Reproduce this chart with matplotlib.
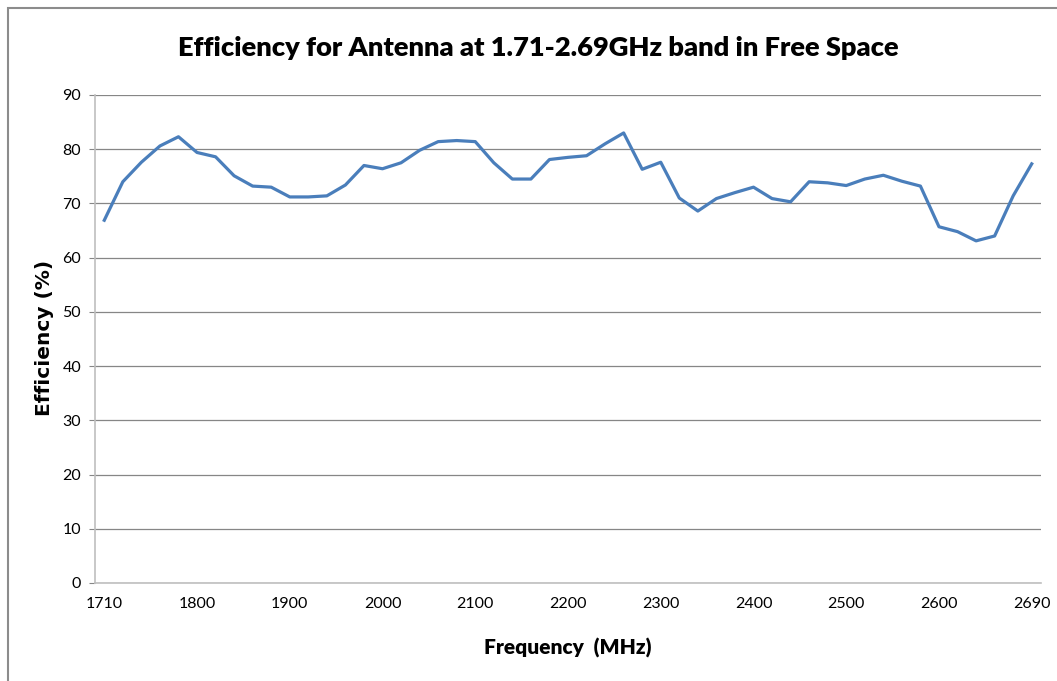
import numpy as np
import matplotlib
matplotlib.use('Agg')
import matplotlib.pyplot as plt
from matplotlib.patches import Rectangle

# frequency categories (MHz) and measured efficiency (%)
freqs = [1710] + list(range(1720, 2700, 20)) + [2690]
efficiency = [66.9, 74.0, 77.6, 80.6, 82.3, 79.4, 78.6, 75.1, 73.2, 73.0,
              71.2, 71.2, 71.4, 73.4, 77.0, 76.4, 77.5, 79.8, 81.4, 81.6,
              81.4, 77.5, 74.5, 74.5, 78.1, 78.5, 78.8, 81.0, 83.0, 76.3,
              77.6, 71.0, 68.6, 70.9, 72.0, 73.0, 70.9, 70.3, 74.0, 73.8,
              73.3, 74.5, 75.2, 74.1, 73.2, 65.7, 64.8, 63.1, 64.0, 71.4,
              77.3]
shown_labels = [1710, 1800, 1900, 2000, 2100, 2200, 2300, 2400, 2500, 2600, 2690]

fig = plt.figure(figsize=(10.57, 6.81), dpi=100)
ax = fig.add_axes([95 / 1057, 1 - 583 / 681, 946 / 1057, 488 / 681])

# chart frame (cut off at right and bottom like the screenshot)
fig.patches.append(Rectangle((8 / 1057, -0.1), 1.2, 1 - 8 / 681 + 0.1,
                             transform=fig.transFigure, fill=False,
                             edgecolor='#8c8c8c', lw=1.5))

idx = np.arange(len(freqs))
ax.plot(idx, efficiency, color='#4A7EBB', lw=2.3, solid_joinstyle='round')

ax.set_xlim(-0.5, len(freqs) - 0.5)
ax.set_ylim(0, 90)
ax.set_yticks(range(0, 91, 10))
tick_pos = [freqs.index(f) for f in shown_labels]
ax.set_xticks(tick_pos)
ax.set_xticklabels([str(f) for f in shown_labels])

ax.grid(axis='y', color='#868686', lw=0.9)
ax.set_axisbelow(True)
for s in ['top', 'right']:
    ax.spines[s].set_visible(False)
ax.spines['left'].set_color('#BFBFBF')
ax.spines['bottom'].set_color('#BFBFBF')
ax.spines['left'].set_linewidth(1.2)
ax.spines['bottom'].set_linewidth(1.2)
ax.tick_params(axis='y', length=4, color='#868686', labelsize=11.5, pad=6)
ax.tick_params(axis='x', length=0, labelsize=11.5, pad=10)
for lbl in ax.get_xticklabels() + ax.get_yticklabels():
    lbl.set_family('Lato')

fig.text(538 / 1057, 1 - 48 / 681, 'Efficiency for Antenna at 1.71-2.69GHz band in Free Space',
         ha='center', va='center', fontsize=19.6, fontweight='heavy', family='Lato')
fig.text(568 / 1057, 1 - 648 / 681, 'Frequency  (MHz)', ha='center', va='center',
         fontsize=15, fontweight='heavy', family='Lato')
fig.text(45 / 1057, 1 - 338 / 681, 'Efficiency (%)', ha='center', va='center',
         rotation=90, fontsize=14.5, fontweight='bold', family='DejaVu Sans')

fig.savefig('out.png', dpi=100)
